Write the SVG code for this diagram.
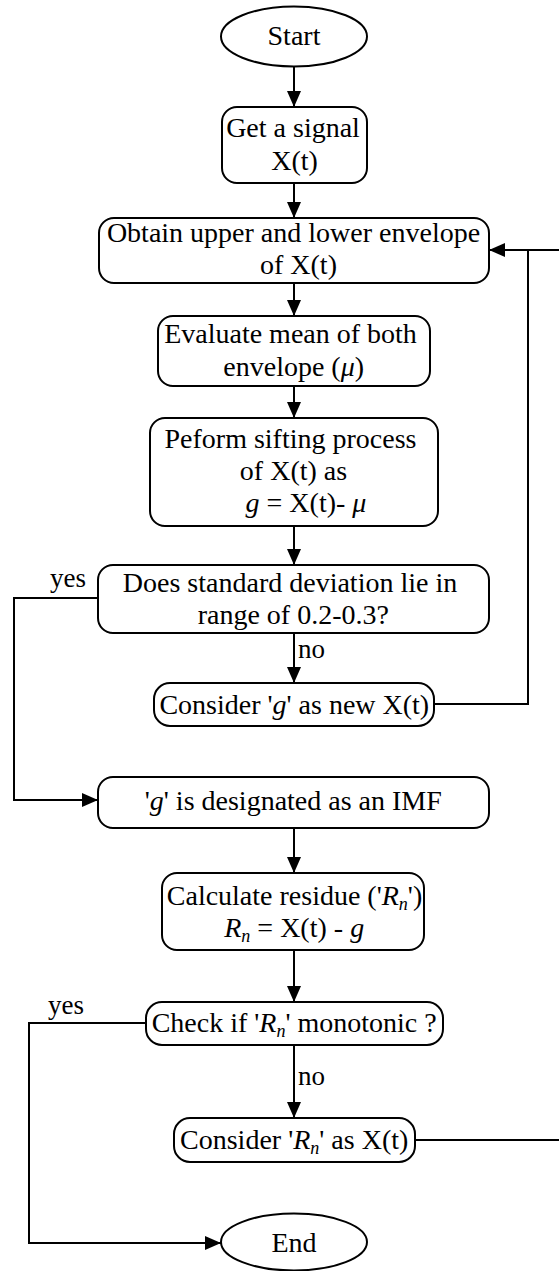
<svg xmlns="http://www.w3.org/2000/svg" width="559" height="1271" viewBox="0 0 559 1271">
<style>
.n{fill:#fff;stroke:#000;stroke-width:2}
.c{fill:none;stroke:#000;stroke-width:2}
text{font-family:"Liberation Serif","Times New Roman",serif;font-size:28px;fill:#000;text-anchor:middle}
.lb{font-size:27px;text-anchor:start}
.i{font-style:italic}
.s{font-size:18px}
</style>
<defs>
<marker id="ah" markerUnits="userSpaceOnUse" markerWidth="16" markerHeight="14" refX="16" refY="7" orient="auto">
<path d="M0,0 L16,7 L0,14 z" fill="#000"/>
</marker>
</defs>
<rect width="559" height="1271" fill="#fff"/>
<g id="connectors">
<path class="c" d="M294,66.5 V107" marker-end="url(#ah)"/>
<path class="c" d="M294,183 V218" marker-end="url(#ah)"/>
<path class="c" d="M294,283 V316" marker-end="url(#ah)"/>
<path class="c" d="M294,386 V418" marker-end="url(#ah)"/>
<path class="c" d="M294,526 V565" marker-end="url(#ah)"/>
<path class="c" d="M294,633 V683" marker-end="url(#ah)"/>
<path class="c" d="M434,704 H528 V250"/>
<path class="c" d="M559,250 H489" marker-end="url(#ah)"/>
<path class="c" d="M98,598 H14 V800 H98" marker-end="url(#ah)"/>
<path class="c" d="M294,828 V873" marker-end="url(#ah)"/>
<path class="c" d="M294,950 V1002" marker-end="url(#ah)"/>
<path class="c" d="M294,1045 V1118" marker-end="url(#ah)"/>
<path class="c" d="M415,1140 H559"/>
<path class="c" d="M146,1023 H29 V1243 H221" marker-end="url(#ah)"/>
<text class="lb" x="50" y="587">yes</text>
<text class="lb" x="298" y="658">no</text>
<text class="lb" x="48" y="1014">yes</text>
<text class="lb" x="298" y="1085">no</text>
</g>
<g id="start">
<ellipse class="n" cx="294" cy="36.5" rx="73" ry="30"/>
<text x="294" y="45">Start</text>
</g>
<g id="get-signal">
<rect class="n" x="222" y="107" width="145" height="76" rx="15"/>
<text x="293" y="137">Get a signal</text>
<text x="294.5" y="170">X(t)</text>
</g>
<g id="obtain-envelope">
<rect class="n" x="99" y="218" width="390" height="65" rx="15"/>
<text x="293.5" y="242">Obtain upper and lower envelope</text>
<text x="298.5" y="274">of X(t)</text>
</g>
<g id="evaluate-mean">
<rect class="n" x="158" y="316" width="272" height="70" rx="15"/>
<text x="290.5" y="343">Evaluate mean of both</text>
<text x="293.7" y="376">envelope (<tspan class="i">μ</tspan>)</text>
</g>
<g id="sifting">
<rect class="n" x="150" y="418" width="288" height="108" rx="15"/>
<text x="290.5" y="448">Peform sifting process</text>
<text x="293.5" y="480">of X(t) as</text>
<text x="306" y="512"><tspan class="i">g</tspan> = X(t)- <tspan class="i">μ</tspan></text>
</g>
<g id="std-check">
<rect class="n" x="98" y="565" width="391" height="68" rx="15"/>
<text x="290" y="592">Does standard deviation lie in</text>
<text x="293.3" y="624">range of 0.2-0.3?</text>
</g>
<g id="consider-g">
<rect class="n" x="154" y="683" width="280" height="43" rx="16"/>
<text x="294.3" y="714">Consider '<tspan class="i">g</tspan>' as new X(t)</text>
</g>
<g id="imf">
<rect class="n" x="98" y="777" width="391" height="51" rx="15"/>
<text x="293.3" y="810">'<tspan class="i">g</tspan>' is designated as an IMF</text>
</g>
<g id="residue">
<rect class="n" x="162" y="873" width="262" height="77" rx="15"/>
<text x="294.5" y="905">Calculate residue ('<tspan class="i">R</tspan><tspan class="i s" dy="5">n</tspan><tspan dy="-5">')</tspan></text>
<text x="294.2" y="937"><tspan class="i">R</tspan><tspan class="i s" dy="5">n</tspan><tspan dy="-5"> = X(t) - </tspan><tspan class="i">g</tspan></text>
</g>
<g id="monotonic-check">
<rect class="n" x="146" y="1002" width="297" height="43" rx="16"/>
<text x="294.2" y="1032">Check if '<tspan class="i">R</tspan><tspan class="i s" dy="5">n</tspan><tspan dy="-5">' monotonic ?</tspan></text>
</g>
<g id="consider-rn">
<rect class="n" x="174" y="1118" width="241" height="44" rx="16"/>
<text x="294.2" y="1149">Consider '<tspan class="i">R</tspan><tspan class="i s" dy="5">n</tspan><tspan dy="-5">' as X(t)</tspan></text>
</g>
<g id="end">
<ellipse class="n" cx="294" cy="1242" rx="73" ry="28.5"/>
<text x="294" y="1252">End</text>
</g>
</svg>
